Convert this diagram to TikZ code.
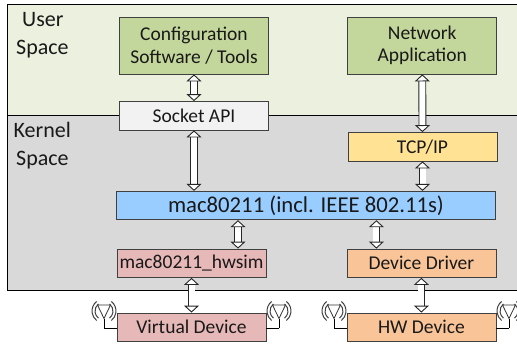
\documentclass[tikz,border=0pt]{standalone}
\usepackage{fontspec}
\setmainfont{Carlito}
\usetikzlibrary{positioning,arrows.meta}
\definecolor{usergreen}{HTML}{EBF1DE}
\definecolor{kernelgray}{HTML}{D9D9D9}
\definecolor{appgreen}{HTML}{C3D69B}
\definecolor{sockgray}{HTML}{F2F2F2}
\definecolor{tcpyellow}{HTML}{FFE294}
\definecolor{macblue}{HTML}{99CCFF}
\definecolor{simred}{HTML}{E6B9B8}
\definecolor{hworange}{HTML}{F9C598}
\tikzstyle{region} = [rectangle, draw=black, line width=.8pt, anchor=north west,
    minimum width=530pt, inner sep=0pt, outer sep=0pt]
\tikzstyle{block} = [rectangle, draw=black!75, line width=.8pt, text centered,
    minimum width=149pt, minimum height=28.5pt, inner sep=0pt, outer sep=0pt,
    font=\fontsize{19.5}{22.5}\selectfont, text=black!90]
\tikzstyle{tall} = [block, minimum height=57pt, align=center]
\tikzstyle{title} = [font=\fontsize{22}{28}\selectfont, inner sep=0pt, text=black!90]
\tikzstyle{line} = [draw=black!85, line width=.9pt, double=white, double distance=6pt, shorten >=.4pt, shorten <=.4pt,
    {Triangle[open, fill=white, length=7pt, width=15pt, line width=.9pt]}-{Triangle[open, fill=white, length=7pt, width=15pt, line width=.9pt]}]
\tikzstyle{wire} = [draw=black, line width=.8pt]
\newcommand{\antenna}[2]{%
    % mast and dish at (#1), feed coordinate named #2
    \coordinate (#2) at (#1);
    \draw [draw=black!80, line width=.8pt] ([shift={(0,-9.5)}]#1) -- ([shift={(-6.5,-23)}]#1) -- ([shift={(6.5,-23)}]#1) -- cycle;
    \draw [wire] (#2) -- ([yshift=9.5pt]#2);
    \foreach \r in {9,12} {
        \draw [draw=black!75, line width=1pt] ([shift={(0,-17)}]#1) ++(128:\r pt) arc (128:232:\r pt);
        \draw [draw=black!75, line width=1pt] ([shift={(0,-17)}]#1) ++(52:\r pt) arc (52:-52:\r pt);
    }
}

\begin{document}
\begin{tikzpicture}[x=1pt, y=-1pt]
    \useasboundingbox (0,0) rectangle (517,343);

    % Spaces
    \node [region, fill=usergreen, minimum height=111pt] (user) at (7.5,4.5) {};
    \node [region, fill=kernelgray, minimum height=174.5pt] (kernel) at (7.5,115.5) {};
    \node [title, align=left, anchor=west] (ulabel) at (16,35.5) {\hspace*{6pt}User\\Space};
    \node [title, align=left, anchor=west] (klabel) at (13.5,145.5) {Kernel\\\hspace*{2.5pt}Space};

    % User space
    \node [tall, fill=appgreen, anchor=north west] (config) at (119.5,17) {Configuration\\Software / Tools};
    \node [tall, fill=appgreen, anchor=north west] (netapp) at (347.7,17) {Network\\Application};
    \node [block, fill=sockgray, below=27.5pt of config] (socket) {Socket API};

    % Kernel space
    \node [block, fill=tcpyellow, anchor=north west] (tcpip) at (348,132.5) {TCP/IP};
    \node [block, fill=macblue, anchor=north west, minimum width=379pt,
        font=\fontsize{22.7}{24}\selectfont] (mac) at (116.5,191.3) {mac80211 (incl. IEEE 802.11s)};
    \node [block, fill=simred, anchor=north west] (hwsim) at (117,249) {mac80211\_hwsim};
    \node [block, fill=hworange, anchor=north west] (driver) at (346.9,249) {Device Driver};

    % Devices
    \node [block, fill=simred, below=35.5pt of hwsim] (virt) {Virtual Device};
    \node [block, fill=hworange, below=35.5pt of driver] (hwdev) {HW Device};

    % Connections
    \path [line] (config) -- (socket);
    \path [line] (socket.south) -- (socket.south |- mac.north);
    \path [line] (netapp) -- (tcpip);
    \path [line] (tcpip) -- (tcpip.south |- mac.north);
    \path [line] ([xshift=46.5pt]hwsim.north) -- ([xshift=46.5pt]hwsim.north |- mac.south);
    \path [line] ([xshift=-45pt]driver.north) -- ([xshift=-45pt]driver.north |- mac.south);
    \path [line] (hwsim) -- (virt);
    \path [line] (driver) -- (hwdev);

    % Antennas
    \antenna{104,328}{antA}
    \antenna{279,328}{antB}
    \antenna{334,328}{antC}
    \antenna{509,328}{antD}
    \draw [wire] (antA) -- (antA -| virt.west);
    \draw [wire] (antB) -- (antB -| virt.east);
    \draw [wire] (antC) -- (antC -| hwdev.west);
    \draw [wire] (antD) -- (antD -| hwdev.east);
\end{tikzpicture}
\end{document}
